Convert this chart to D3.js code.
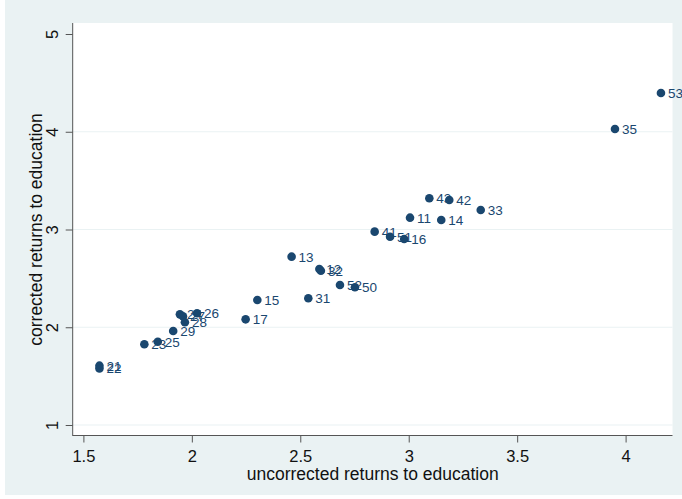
<!DOCTYPE html>
<html>
<head>
<meta charset="utf-8">
<script src="https://cdn.jsdelivr.net/npm/d3@7"></script>
<style>
  html, body { margin:0; padding:0; background:#fff; }
  svg { display:block; font-family:"Liberation Sans", Arial, sans-serif; }
</style>
</head>
<body>
<svg id="chart" width="682" height="499"></svg>
<script>
// values
var LABELS = ['21','22','23','25','29','24','27','28','26','17','15','13','31','12','32','52','50','41','51','16','11','43','14','42','33','35','53'];
var XVALS  = [1.574,1.574,1.781,1.843,1.914,1.945,1.959,1.968,2.024,2.248,2.302,2.460,2.537,2.588,2.595,2.683,2.752,2.843,2.914,2.979,3.006,3.095,3.150,3.187,3.332,3.951,4.163];
var YVALS  = [1.607,1.578,1.826,1.852,1.962,2.132,2.112,2.051,2.143,2.081,2.279,2.722,2.296,2.596,2.578,2.432,2.409,2.978,2.926,2.903,3.121,3.319,3.097,3.302,3.200,4.028,4.396];
var XTICKS = [1.5, 2, 2.5, 3, 3.5, 4];
var YTICKS = [1, 2, 3, 4, 5];
var YGRID  = [1, 2, 3, 4];

var BG = '#eaf2f3', NAVY = '#1a476f', INK = '#111';
var svg = d3.select('#chart');

// plot region
var P = { l:73, r:672.5, t:23, b:436 };
var x = d3.scaleLinear([1.5, 4], [83.4, 625.6]);
var y = d3.scaleLinear([1, 5], [425, 34]);

svg.append('rect').attr('x',5).attr('y',0).attr('width',677).attr('height',495).attr('fill',BG);
svg.append('rect').attr('x',P.l).attr('y',P.t).attr('width',P.r-P.l).attr('height',P.b-P.t).attr('fill','#fff');

// gridlines
svg.append('g').selectAll('line').data(YGRID).join('line')
  .attr('x1',P.l).attr('x2',P.r)
  .attr('y1',function(d){ return y(d); }).attr('y2',function(d){ return y(d); })
  .attr('stroke',BG).attr('stroke-width',1.2);

// axes
var yAxis = d3.axisLeft(y).tickValues(YTICKS).tickSize(7).tickFormat(d3.format('d'));
var gy = svg.append('g').attr('transform','translate('+(P.l-0.3)+',0)').call(yAxis);
gy.select('.domain').remove();
gy.append('line').attr('x1',0).attr('x2',0).attr('y1',P.t).attr('y2',P.b).attr('stroke','#555');
gy.selectAll('.tick line').attr('stroke','#555');
gy.selectAll('.tick text')
  .attr('font-size',16.5).attr('fill',INK).attr('font-family','"Liberation Sans", Arial, sans-serif')
  .attr('x',0).attr('dy',null).attr('text-anchor','middle')
  .attr('transform','translate(-14.5,0) rotate(-90)');

var xAxis = d3.axisBottom(x).tickValues(XTICKS).tickSize(7).tickPadding(8).tickFormat(function(d){ return String(d); });
var gx = svg.append('g').attr('transform','translate(0,'+(P.b-0.5)+')').call(xAxis);
gx.select('.domain').remove();
gx.append('line').attr('x1',P.l).attr('x2',P.r).attr('y1',0).attr('y2',0).attr('stroke','#555');
gx.selectAll('.tick line').attr('stroke','#555');
gx.selectAll('.tick text')
  .attr('font-size',16.5).attr('fill',INK).attr('font-family','"Liberation Sans", Arial, sans-serif');

// axis titles
svg.append('text').attr('x',(P.l+P.r)/2).attr('y',480)
  .attr('text-anchor','middle').attr('font-size',17.5).attr('fill',INK)
  .text('uncorrected returns to education');
svg.append('text').attr('transform','translate(42,'+((P.t+P.b)/2)+') rotate(-90)')
  .attr('text-anchor','middle').attr('font-size',17.5).attr('fill',INK)
  .text('corrected returns to education');

// markers with labels, drawn in order so later points sit on top
var pts = LABELS.map(function(l,i){ return { lab:l, x:XVALS[i], y:YVALS[i] }; });
var g = svg.append('g').selectAll('g').data(pts).join('g')
  .attr('transform',function(d){ return 'translate('+x(d.x)+','+y(d.y)+')'; });
g.append('circle').attr('r',4.3).attr('fill',NAVY);
g.append('text').attr('x',7).attr('dy','0.36em')
  .attr('font-size',13.5).attr('fill',NAVY)
  .text(function(d){ return d.lab; });
</script>
</body>
</html>
